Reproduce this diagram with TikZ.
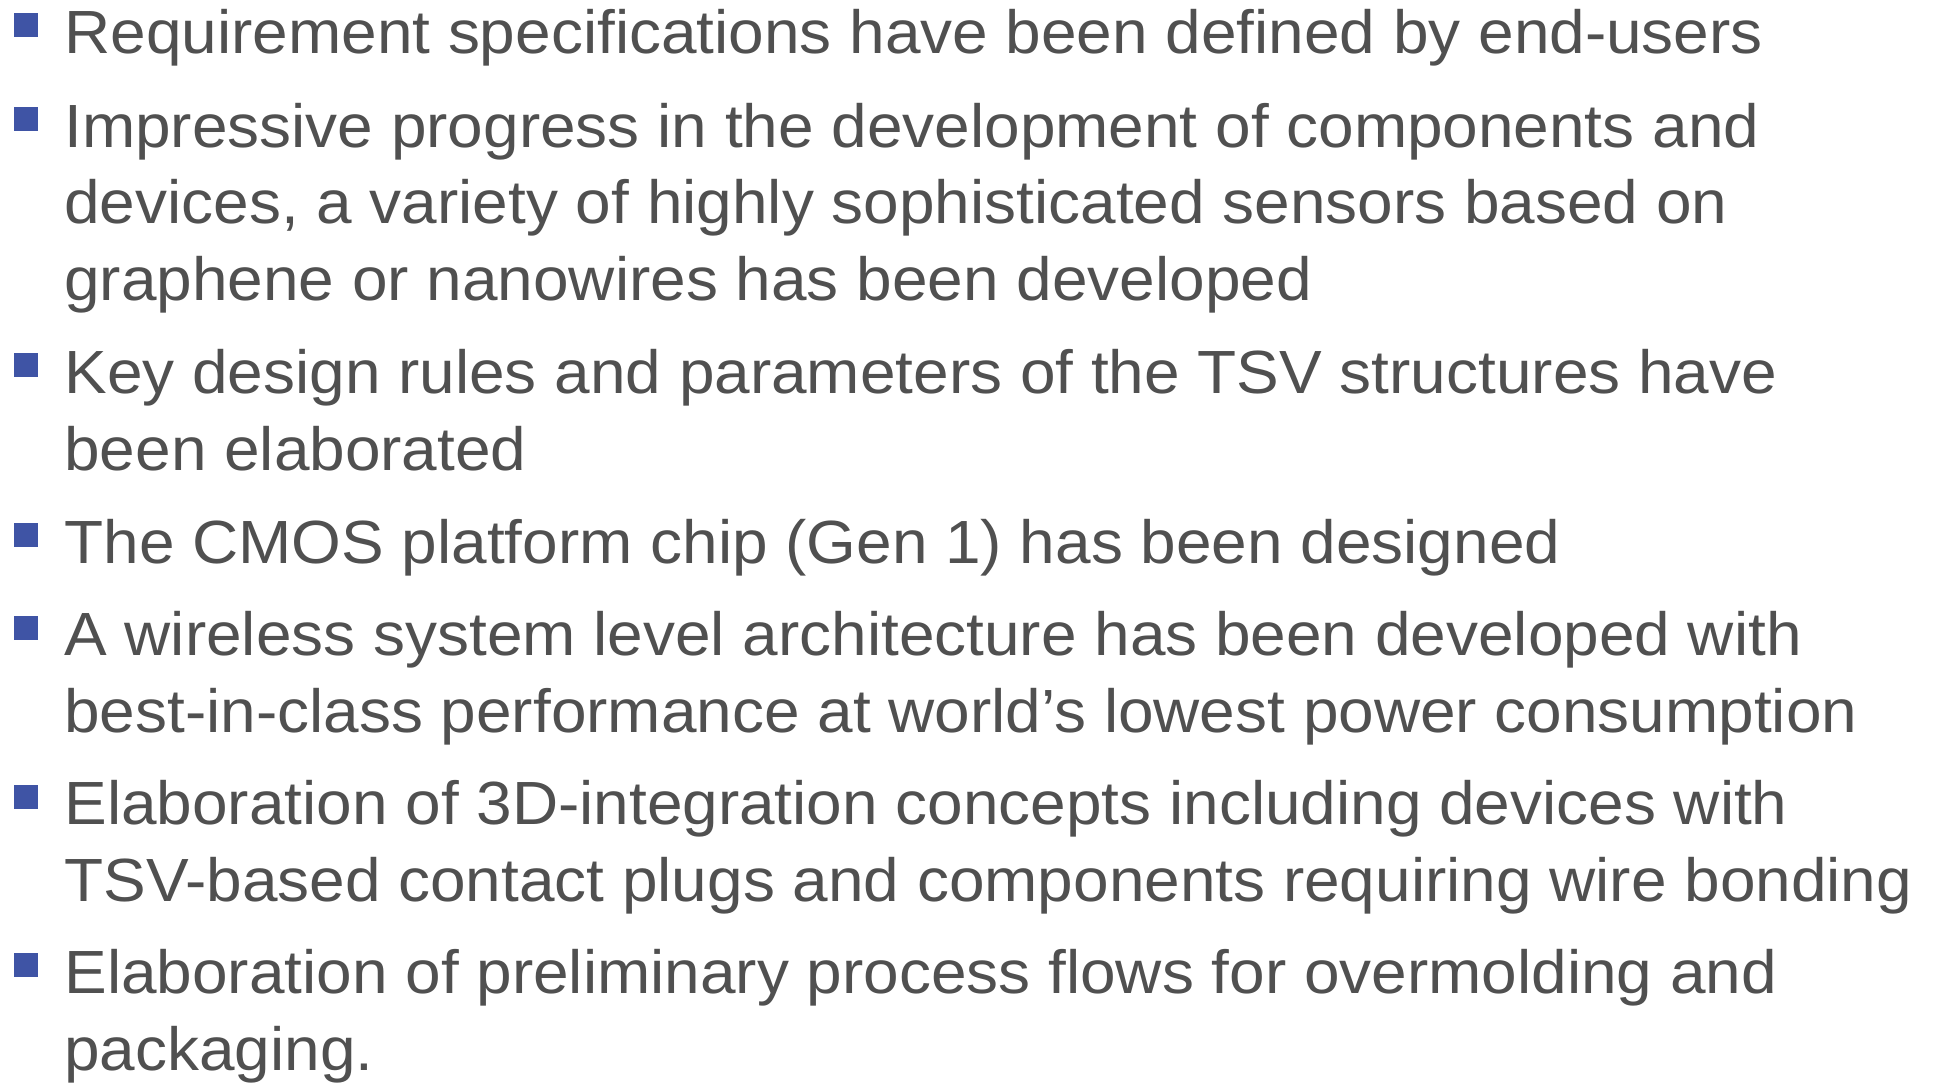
\documentclass[tikz,border=0pt]{standalone}
\usepackage{fontspec}
\setmainfont[FakeStretch=1.048]{Liberation Sans}
\definecolor{txtgray}{HTML}{505050}
\definecolor{bulletblue}{HTML}{3F54A5}
\tikzset{
  itemtext/.style={anchor=base west,inner sep=0pt,align=left,text=txtgray,
    font=\fontsize{30.5pt}{38.25pt}\selectfont},
  sqbullet/.style={fill=bulletblue,inner sep=0pt,minimum size=12pt}
}

\begin{document}
\begin{tikzpicture}[x=0.5pt,y=-0.5pt]
    \useasboundingbox (0,0) rectangle (1933,1084);
    %bullets
    \node[sqbullet] (b1) at (26,25) {};
    \node[sqbullet] (b2) at (26,119) {};
    \node[sqbullet] (b3) at (26,365) {};
    \node[sqbullet] (b4) at (26,535) {};
    \node[sqbullet] (b5) at (26,628) {};
    \node[sqbullet] (b6) at (26,797) {};
    \node[sqbullet] (b7) at (26,965) {};
    %items (anchored at the baseline of their last line)
    \node[itemtext] (it1) at (64,53) {Requirement specifications have been defined by end-users};
    \node[itemtext] (it2) at (64,300) {Impressive progress in the development of components and\\
      devices, a variety of highly sophisticated sensors based on\\
      graphene or nanowires has been developed};
    \node[itemtext] (it3) at (64,470) {Key design rules and parameters of the TSV structures have\\
      been elaborated};
    \node[itemtext] (it4) at (64,563) {The CMOS platform chip (Gen 1) has been designed};
    \node[itemtext] (it5) at (64,732) {A wireless system level architecture has been developed with\\
      best-in-class performance at world’s lowest power consumption};
    \node[itemtext] (it6) at (64,901) {Elaboration of 3D-integration concepts including devices with\\
      TSV-based contact plugs and components requiring wire bonding};
    \node[itemtext] (it7) at (64,1070) {Elaboration of preliminary process flows for overmolding and\\
      packaging.};
\end{tikzpicture}
\end{document}
